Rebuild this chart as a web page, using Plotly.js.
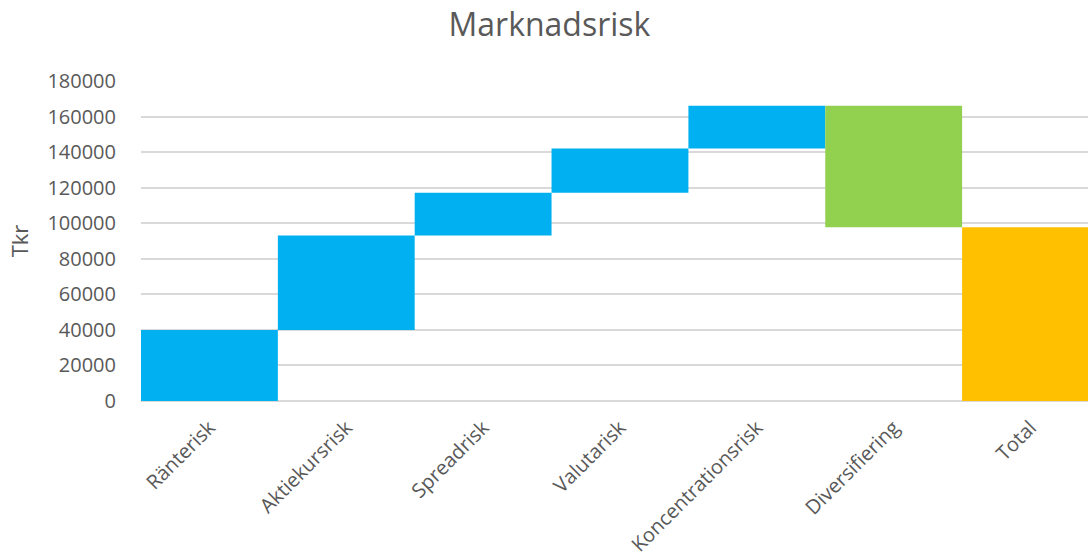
<!DOCTYPE html>
<html>
<head>
<meta charset="utf-8">
<script src="https://cdn.plot.ly/plotly-3.0.1.min.js"></script>
<style>html,body{margin:0;padding:0;background:#fff;}#chart{width:1088px;height:559px;}</style>
</head>
<body>
<div id="chart"></div>
<script>
const categories = ["Ränterisk", "Aktiekursrisk", "Spreadrisk", "Valutarisk", "Koncentrationsrisk", "Diversifiering", "Total"];
const values = [39900, 53200, 24000, 24900, 24100, -68350, 0];
const measures = ["relative", "relative", "relative", "relative", "relative", "relative", "total"];
const yTicks = [0, 20000, 40000, 60000, 80000, 100000, 120000, 140000, 160000, 180000];

const trace = {
  type: "waterfall",
  x: categories,
  y: values,
  measure: measures,
  increasing: { marker: { color: "#00B0F0" } },
  decreasing: { marker: { color: "#92D050" } },
  totals: { marker: { color: "#FFC000" } },
  connector: { visible: false },
  hoverinfo: "x+y"
};

const layout = {
  width: 1088, height: 559,
  margin: { l: 141, r: 0, t: 81, b: 158 },
  paper_bgcolor: "#ffffff", plot_bgcolor: "#ffffff",
  font: { family: "Open Sans, Noto Sans, sans-serif", color: "#595959" },
  title: { text: "Marknadsrisk", font: { size: 32, color: "#595959" }, xref: "container", x: 0.505, xanchor: "center", yref: "container", y: 0.955, yanchor: "middle" },
  waterfallgap: 0,
  showlegend: false,
  xaxis: {
    type: "category",
    range: [-0.5, 6.42],
    tickangle: -45,
    tickfont: { size: 20, color: "#595959" },
    showgrid: false, showline: false, zeroline: false,
    ticks: "outside", ticklen: 6, tickcolor: "rgba(0,0,0,0)"
  },
  yaxis: {
    range: [0, 180000],
    tickvals: yTicks,
    ticktext: yTicks.map(String),
    tickfont: { size: 20, color: "#595959" },
    showgrid: true, gridcolor: "#D9D9D9", gridwidth: 2,
    zeroline: true, zerolinecolor: "#D9D9D9", zerolinewidth: 2,
    showline: false,
    ticks: "outside", ticklen: 20, tickcolor: "rgba(0,0,0,0)",
    title: { text: "Tkr", font: { size: 22, color: "#595959" }, standoff: 12 }
  }
};

Plotly.newPlot("chart", [trace], layout, { displayModeBar: false, staticPlot: true });
</script>
</body>
</html>
